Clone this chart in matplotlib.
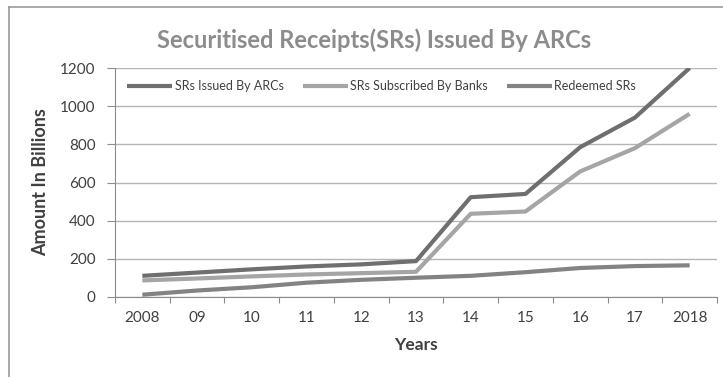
import numpy as np
import matplotlib.pyplot as plt
from matplotlib.lines import Line2D

# values (billions)
years = ['2008', '09', '10', '11', '12', '13', '14', '15', '16', '17', '2018']
issued_by_arcs = [111, 128, 145, 160, 171, 188, 523, 540, 785, 940, 1200]
subscribed_by_banks = [87, 97, 108, 118, 125, 132, 436, 448, 658, 780, 960]
redeemed = [12, 34, 51, 75, 90, 101, 111, 130, 152, 162, 166]

plt.rcParams['font.family'] = ['Lato', 'DejaVu Sans']
txt = '#404040'

fig = plt.figure(figsize=(7.23, 3.77), dpi=100)
ax = fig.add_axes([115 / 723, 80 / 377, 602 / 723, 229 / 377])

x = np.arange(len(years))
ax.plot(x, issued_by_arcs, color='#6f6f6f', lw=3, label='SRs Issued By ARCs', solid_capstyle='butt')
ax.plot(x, subscribed_by_banks, color='#a5a5a5', lw=3, label='SRs Subscribed By Banks', solid_capstyle='butt')
ax.plot(x, redeemed, color='#838383', lw=3, label='Redeemed SRs', solid_capstyle='butt')

ax.set_xlim(-0.5, len(years) - 0.5)
ax.set_ylim(0, 1200)
ax.set_yticks(range(0, 1201, 200))
ax.yaxis.grid(True, color='#b5b5b5', lw=1)
ax.set_axisbelow(True)

# category axis: ticks between categories, labels at centres
ax.set_xticks(np.arange(-0.5, len(years)), labels=[])
ax.set_xticks(x, labels=years, minor=True)
ax.tick_params(axis='x', which='major', length=4, color='#8c8c8c', direction='out')
ax.tick_params(axis='x', which='minor', length=0, pad=10, labelsize=11, labelcolor=txt)
ax.tick_params(axis='y', length=6, color='#8c8c8c', pad=8, labelsize=11, labelcolor=txt)

for s in ['top', 'right']:
    ax.spines[s].set_visible(False)
for s in ['left', 'bottom']:
    ax.spines[s].set_color('#8c8c8c')

ax.set_ylabel('Amount In Billions', fontsize=13, fontweight='bold', color=txt, labelpad=8)
ax.set_xlabel('Years', fontsize=12.5, fontweight='bold', color=txt, labelpad=9)

fig.text(374 / 723, 1 - 40 / 377, 'Securitised Receipts(SRs) Issued By ARCs',
         ha='center', va='center', fontsize=17, fontweight='bold', color='#8c8c8c')

ax.legend(loc='upper left', bbox_to_anchor=(0, 1), ncol=3, frameon=False,
          fontsize=9, labelcolor=txt, handlelength=3.6, handletextpad=0.2,
          columnspacing=1.5, borderaxespad=0.6)

# chart frame (left and top edges visible)
fig.add_artist(Line2D([9 / 723, 9 / 723], [0, 1 - 7 / 377], color='#9a9a9a', lw=1.2))
fig.add_artist(Line2D([9 / 723, 1], [1 - 7 / 377, 1 - 7 / 377], color='#9a9a9a', lw=1.2))

fig.savefig('out.png', dpi=100)
